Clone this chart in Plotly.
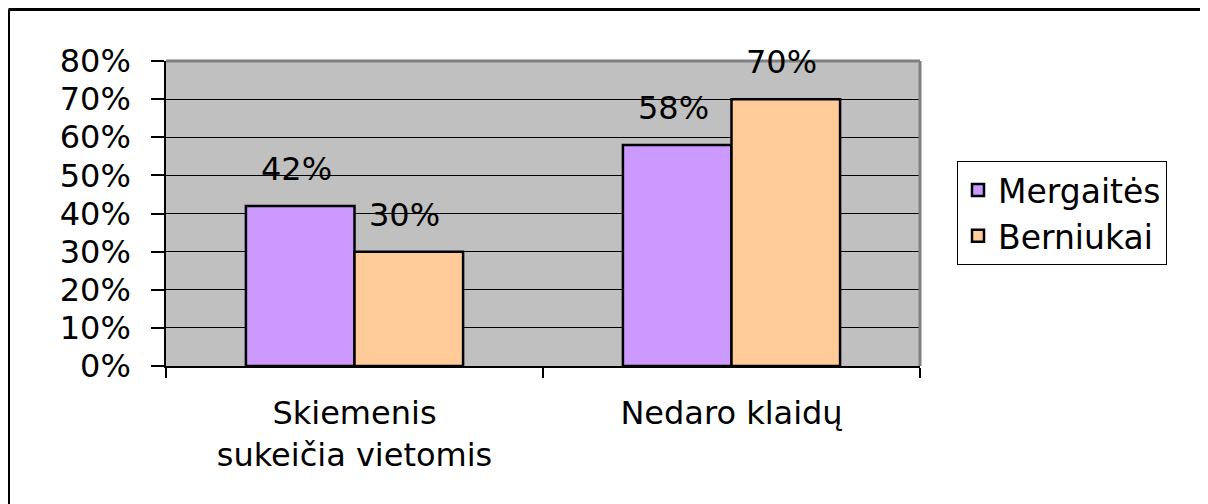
import plotly.graph_objects as go

categories = ["Skiemenis<br>sukeičia vietomis", "Nedaro klaidų"]
series_names = ["Mergaitės", "Berniukai"]
mergaites = [0.42, 0.58]
berniukai = [0.30, 0.70]
y_ticks = [0, 0.1, 0.2, 0.3, 0.4, 0.5, 0.6, 0.7, 0.8]
y_tick_labels = ["0%", "10%", "20%", "30%", "40%", "50%", "60%", "70%", "80%"]

# page has an 8px body margin; work in page pixels and convert
OFF = 8
W, H = 1208 - OFF, 504 - OFF
L, R, T, B = 166 - OFF, 920 - OFF, 61 - OFF, 366 - OFF
FONT = "DejaVu Sans"
FS = 32


def px_x(x):
    return (x - OFF - L) / (R - L)


def px_y(y):
    return (B - (y - OFF)) / (B - T)


fig = go.Figure()
colors = ["#CC99FF", "#FFCC99"]
for name, vals, col in zip(series_names, [mergaites, berniukai], colors):
    fig.add_trace(go.Bar(
        x=categories, y=vals, name=name,
        marker=dict(color=col, line=dict(color="black", width=2.5)),
        hoverinfo="skip",
    ))

# data labels
shifts = [-58, 50]
for vals, xs in zip([mergaites, berniukai], shifts):
    for c, v in zip(categories, vals):
        fig.add_annotation(
            x=c, y=v, text=f"{round(v * 100)}%", showarrow=False,
            xanchor="center", yanchor="bottom", xshift=xs, yshift=16,
            font=dict(family=FONT, size=FS, color="black"),
        )

shapes = [
    dict(type="line", xref="paper", yref="paper", x0=0, x1=1, y0=1, y1=1,
         line=dict(color="#808080", width=3), layer="above"),
    dict(type="line", xref="paper", yref="paper", x0=1, x1=1, y0=0, y1=1,
         line=dict(color="#808080", width=3), layer="above"),
    dict(type="line", xref="paper", yref="paper", x0=px_x(8.5), x1=px_x(1215),
         y0=px_y(9.5), y1=px_y(9.5), line=dict(color="black", width=3)),
    dict(type="line", xref="paper", yref="paper", x0=px_x(8.5), x1=px_x(8.5),
         y0=px_y(9.5), y1=px_y(510), line=dict(color="black", width=3)),
]

fig.update_layout(
    width=W, height=H,
    margin=dict(l=L, r=W - R, t=T, b=H - B, pad=0),
    paper_bgcolor="white",
    plot_bgcolor="#C0C0C0",
    barmode="group",
    bargap=0.424,
    bargroupgap=0,
    font=dict(family=FONT, size=FS, color="black"),
    showlegend=True,
    legend=dict(
        x=px_x(957), y=px_y(161), xanchor="left", yanchor="top",
        bgcolor="white", bordercolor="black", borderwidth=1,
        font=dict(family=FONT, size=FS + 1, color="black"),
        itemwidth=30,
    ),
    shapes=shapes,
)

fig.update_yaxes(
    range=[0, 0.8], tickvals=y_ticks, ticktext=y_tick_labels,
    showgrid=True, gridcolor="black", gridwidth=1,
    showline=True, linecolor="black", linewidth=1.5,
    ticks="outside", ticklen=13, tickcolor="black", tickwidth=1.5,
    ticklabelstandoff=14, zeroline=False,
    tickfont=dict(family=FONT, size=FS, color="black"),
)
fig.update_xaxes(
    showgrid=False,
    showline=True, linecolor="black", linewidth=1.5,
    ticks="outside", ticklen=10, tickcolor="black", tickwidth=1.5,
    tickson="boundaries", ticklabelstandoff=18,
    tickfont=dict(family=FONT, size=FS, color="black"),
)

fig.write_html("out.html")
